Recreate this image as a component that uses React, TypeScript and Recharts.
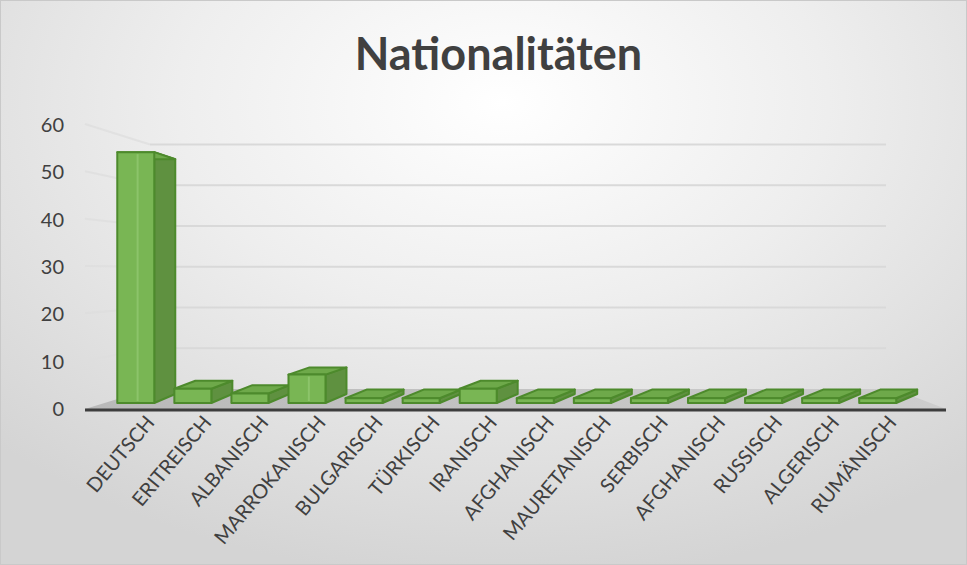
import { Bar, BarChart, CartesianGrid, XAxis, YAxis, usePlotArea } from 'recharts';

const categories = [
  'DEUTSCH', 'ERITREISCH', 'ALBANISCH', 'MARROKANISCH', 'BULGARISCH', 'TÜRKISCH', 'IRANISCH',
  'AFGHANISCH', 'MAURETANISCH', 'SERBISCH', 'AFGHANISCH', 'RUSSISCH', 'ALGERISCH', 'RUMÄNISCH',
];
const counts = [53, 3, 2, 6, 1, 1, 3, 1, 1, 1, 1, 1, 1, 1];
const yTicks = [0, 10, 20, 30, 40, 50, 60];

const data = categories.map((name, i) => ({ name, value: counts[i] }));

const GREEN_FRONT = '#79b654';
const GREEN_SIDE = '#5f9140';
const GREEN_TOP = '#6ea94a';
const GREEN_EDGE = '#4d8a2c';

// floor depth in px and how much the back wall shrinks vs the front plane
const DEPTH = 14;
const BACK_SCALE = 0.861;

function Bar3D(props: any) {
  const { x, y, width, height } = props;
  if (width == null || height == null) return null;
  const bottom = y + height;
  const dx = 21;
  const dyTop = -9 + 0.064 * (bottom - y);
  const dyBot = -9;
  const side = `${x + width},${y} ${x + width + dx},${y + dyTop} ${x + width + dx},${bottom + dyBot} ${x + width},${bottom}`;
  const top = `${x},${y} ${x + width},${y} ${x + width + dx},${y + dyTop} ${x + dx},${y + dyTop}`;
  return (
    <g strokeLinejoin="round">
      <polygon points={side} fill={GREEN_SIDE} stroke={GREEN_EDGE} strokeWidth={2} />
      <polygon points={top} fill={GREEN_TOP} stroke={GREEN_EDGE} strokeWidth={2} />
      <rect x={x} y={y} width={width} height={height} fill={GREEN_FRONT} stroke={GREEN_EDGE} strokeWidth={2} />
      {height > 20 && (
        <line x1={x + width * 0.55} y1={y + 2} x2={x + width * 0.55} y2={bottom - 2} stroke="#8cc46a" strokeWidth={2} />
      )}
    </g>
  );
}

function Floor() {
  const pa = usePlotArea();
  if (!pa) return null;
  const b = pa.y + pa.height;
  const l = pa.x;
  const r = pa.x + pa.width;
  const pts = `${l - 22},${b + 6} ${r + 40},${b + 6} ${r - 12},${b - DEPTH} ${l + 43},${b - DEPTH}`;
  return (
    <g>
      <defs>
        <linearGradient id="floorGrad" x1="0" x2="1" y1="0" y2="0">
          <stop offset="0%" stopColor="#b9b9b9" />
          <stop offset="100%" stopColor="#cdcdcd" />
        </linearGradient>
      </defs>
      <polygon points={pts} fill="url(#floorGrad)" />
      <line x1={l - 22} y1={b + 7} x2={r + 40} y2={b + 7} stroke="#3d3d3d" strokeWidth={3} />
    </g>
  );
}

function GridLine(props: any) {
  const pa = usePlotArea();
  if (!pa) return null;
  const b = pa.y + pa.height;
  const yFront = props.y1;
  const yBack = b - DEPTH - (b - yFront) * BACK_SCALE;
  if (Math.abs(yFront - b) < 1) return null;
  return (
    <g>
      <line x1={pa.x - 22} y1={yFront + 5} x2={pa.x + 43} y2={yBack} stroke="#dedede" strokeWidth={2} opacity={0.7} />
      <line x1={pa.x + 43} y1={yBack} x2={pa.x + pa.width - 20} y2={yBack} stroke="#d9d9d9" strokeWidth={2} />
    </g>
  );
}

function YTick(props: any) {
  const { x, y, payload } = props;
  return (
    <text x={x - 35} y={y + 13} textAnchor="end" fontSize={20} fill="#404040" fontFamily="Lato, sans-serif">
      {payload.value}
    </text>
  );
}

function XTick(props: any) {
  const { x, y, payload } = props;
  return (
    <text
      transform={`translate(${x + 20},${y + 12}) rotate(-50)`}
      textAnchor="end"
      fontSize={20}
      fill="#404040"
      fontFamily="Lato, sans-serif"
    >
      {payload.value}
    </text>
  );
}

export default function App() {
  return (
    <div
      style={{
        position: 'absolute',
        left: 0,
        top: 0,
        width: 967,
        height: 565,
        boxSizing: 'border-box',
        border: '1px solid #c9c9c9',
        background: 'radial-gradient(ellipse 75% 85% at 52% 18%, #ffffff 0%, #eeeeee 45%, #d4d4d4 100%)',
        overflow: 'hidden',
      }}
    >
      <div
        style={{
          position: 'absolute',
          top: 25,
          left: 0,
          width: 967,
          textAlign: 'center',
          fontFamily: 'Lato, sans-serif',
          fontWeight: 700,
          fontSize: 45,
          color: '#404040',
          paddingLeft: 28,
          boxSizing: 'border-box',
        }}
      >
        Nationalitäten
      </div>
      <BarChart
        width={967}
        height={565}
        data={data}
        margin={{ top: 119, right: 61, bottom: 0, left: 37 }}
        barCategoryGap="18%"
        style={{ position: 'absolute', left: -1, top: -1 }}
      >
        <CartesianGrid vertical={false} horizontal={(p: any) => <GridLine key={p.key} {...p} />} />
        <XAxis dataKey="name" axisLine={false} tickLine={false} interval={0} tick={<XTick />} height={162} />
        <YAxis
          domain={[0, 60]}
          ticks={yTicks}
          axisLine={false}
          tickLine={false}
          width={70}
          tick={<YTick />}
          interval={0}
        />
        <Floor />
        <Bar dataKey="value" isAnimationActive={false} shape={<Bar3D />} />
      </BarChart>
    </div>
  );
}
